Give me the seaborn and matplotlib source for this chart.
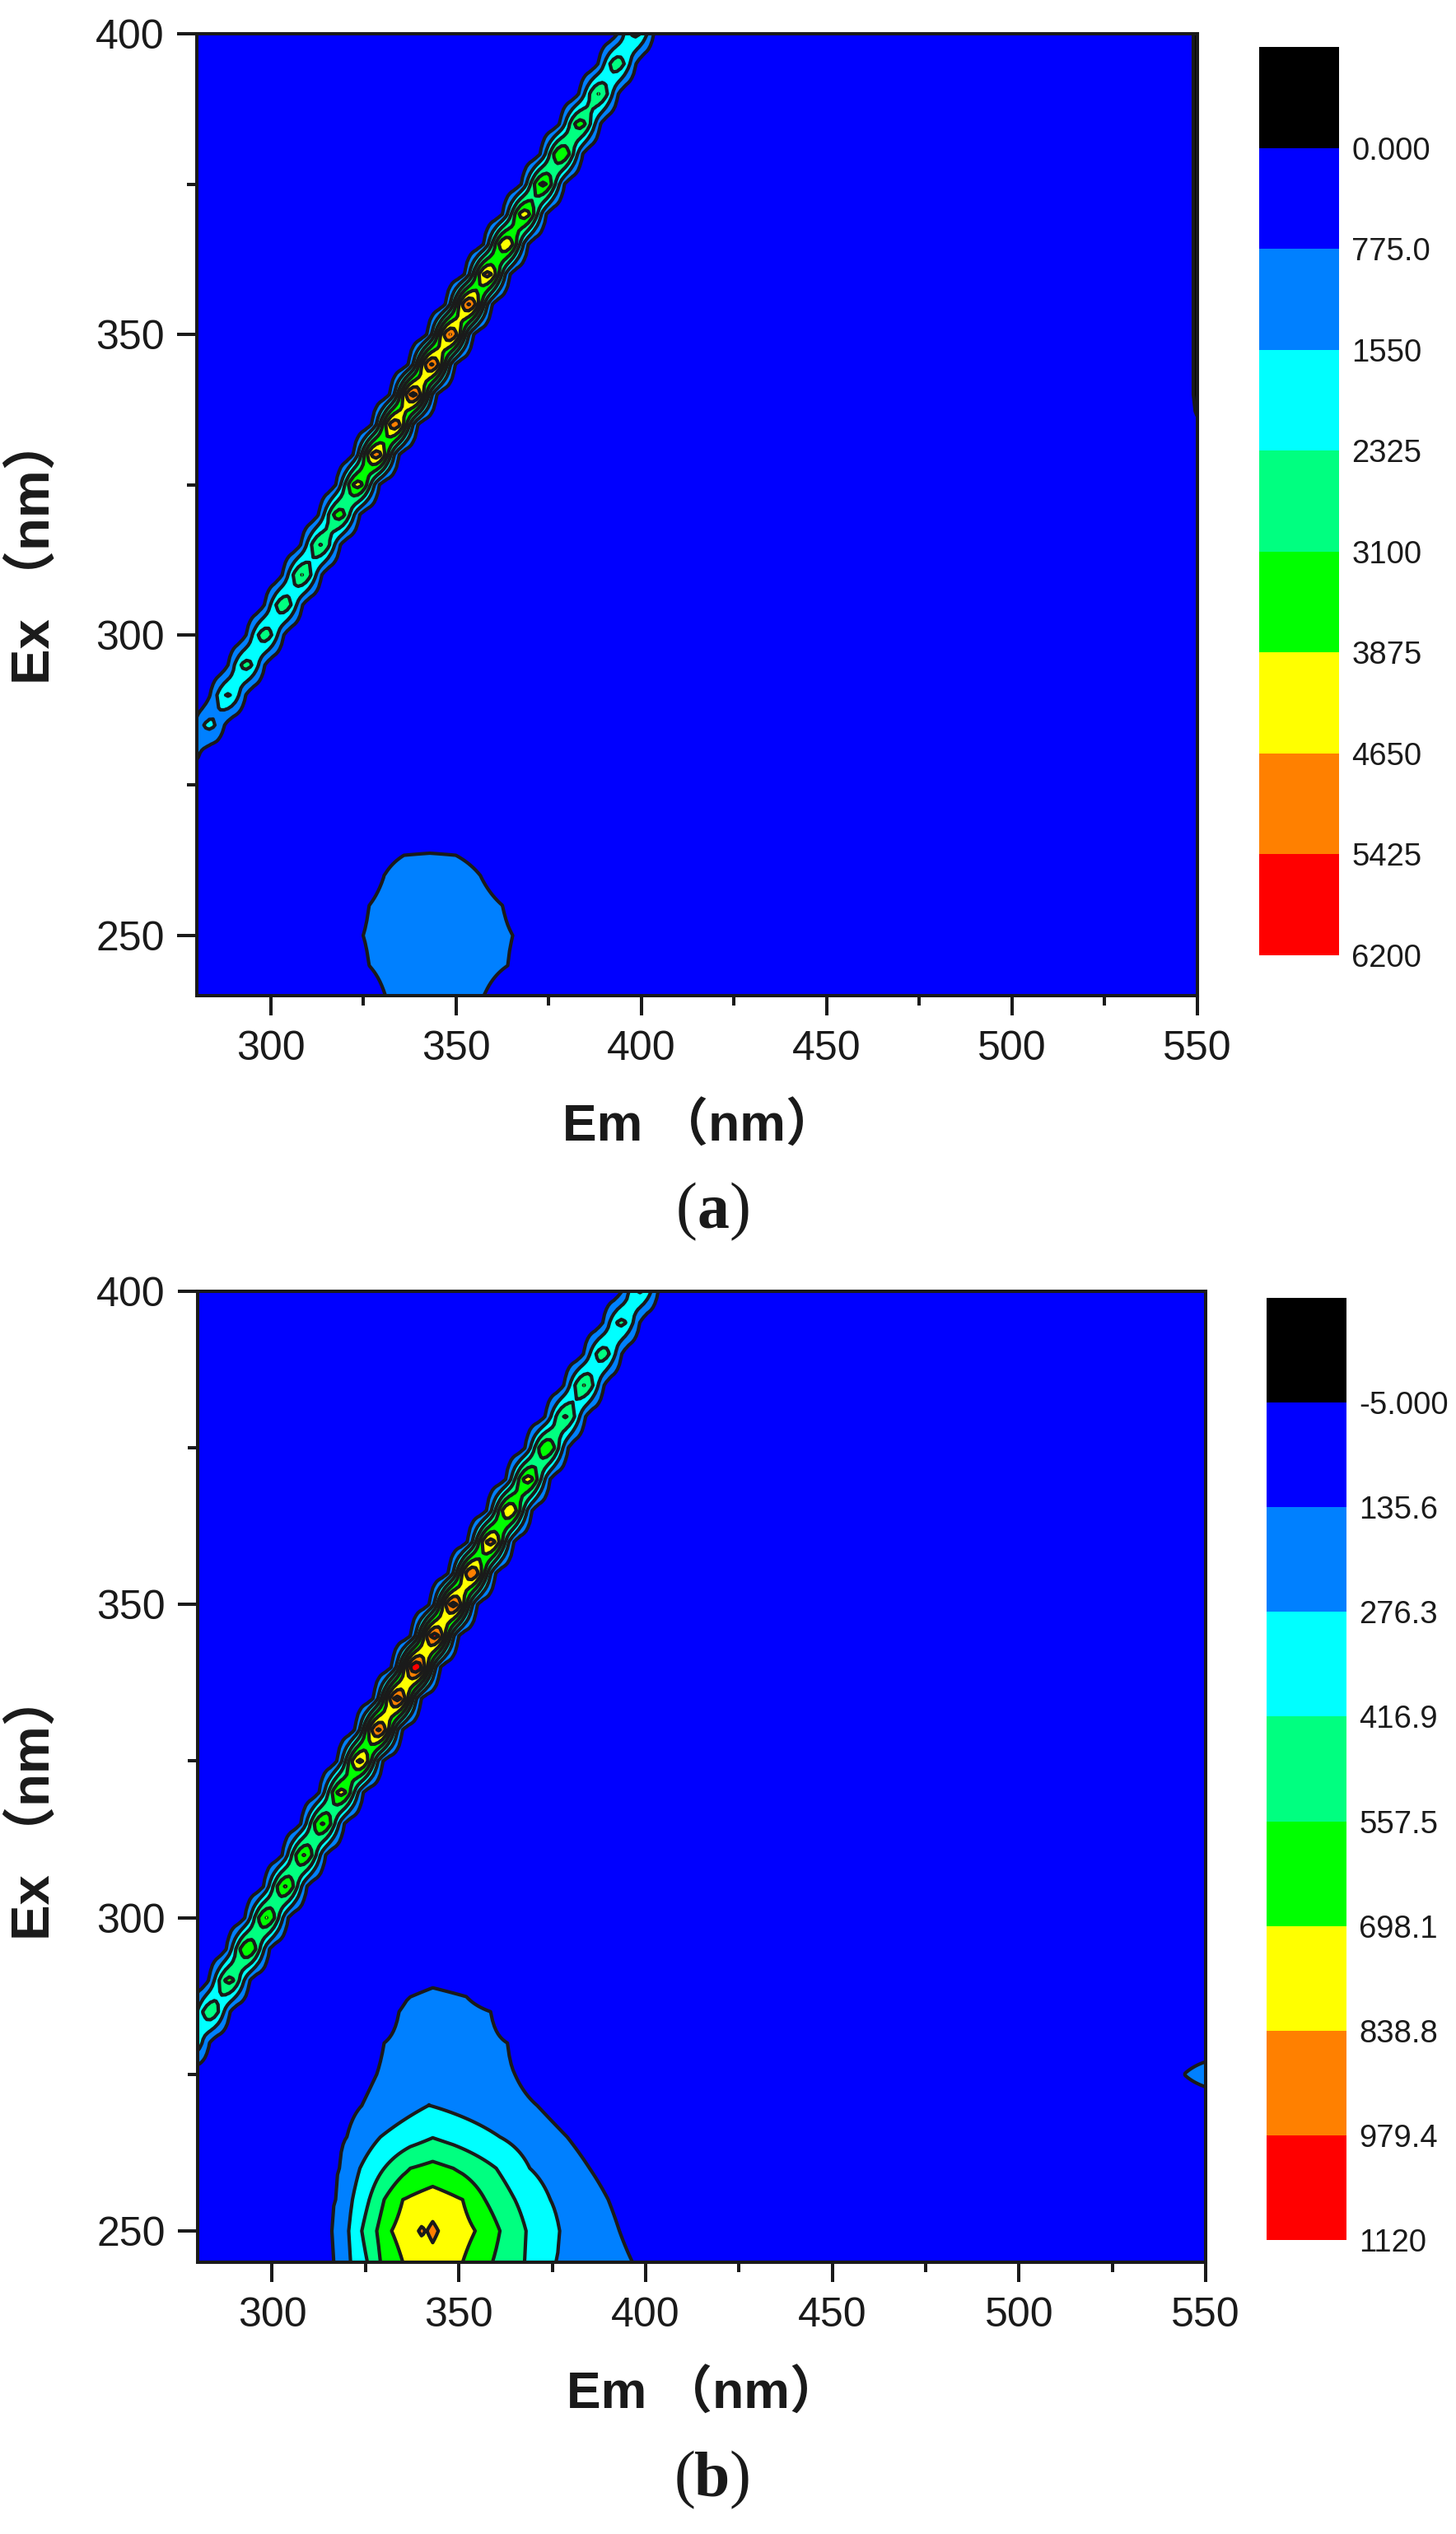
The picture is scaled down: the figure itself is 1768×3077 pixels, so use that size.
import numpy as np
import seaborn as sns
import matplotlib
matplotlib.use('Agg')
import matplotlib.pyplot as plt
from matplotlib.colors import ListedColormap

#----------------------------------------------------
# data

band_colors = ['#000000', '#0000FF', '#0080FF', '#00FFFF', '#00FF80',
               '#00FF00', '#FFFF00', '#FF8000', '#FF0000']

levels_a = [-600, 0, 775, 1550, 2325, 3100, 3875, 4650, 5425, 6200]
levels_b = [-100, -5, 135.6, 276.3, 416.9, 557.5, 698.1, 838.8, 979.4, 1120]
labels_a = ['0.000', '775.0', '1550', '2325', '3100', '3875', '4650', '5425', '6200']
labels_b = ['-5.000', '135.6', '276.3', '416.9', '557.5', '698.1', '838.8', '979.4', '1120']

base_a = 200
base_b = 40

# scatter ridge, peak height on each excitation row
ridge_ex = [280, 285, 290, 295, 300, 305, 310, 315, 320, 325, 330, 335, 340,
            345, 350, 355, 360, 365, 370, 375, 380, 385, 390, 395, 400]
ridge_a = [1000, 1750, 2400, 2600, 2750, 2850, 3110, 3130, 3500, 4200, 5100, 5200, 5650,
           5500, 5430, 5480, 4950, 4630, 4300, 4050, 3860, 3450, 3110, 2800, 2500]
ridge_b = [400, 520, 600, 695, 700, 705, 705, 710, 750, 870, 1000, 1030, 1110,
           1040, 1030, 975, 900, 835, 760, 695, 570, 560, 490, 450, 430]
# ridge line shape: distance from the ridge centre (nm), relative height
shape_off = [0, 1, 2, 3, 4, 5, 6, 7, 8, 9, 10, 11]
shape_rel = [1, .95, .82, .64, .46, .295, .172, .091, .044, .019, .008, 0]
ridge_shift = -1.5

# lower blob, panel a: one table per excitation row
blob_a_ex = [240, 245, 250, 255, 260, 265]
blob_a_em = [[318, 331, 344, 357.6, 370],
             [313, 326.6, 345, 364, 377],
             [312, 325, 345, 365.4, 378],
             [313, 326.6, 345, 362.6, 375],
             [318, 330.7, 336, 343, 350, 356.6, 369],
             [322, 336, 343, 350, 364]]
blob_a_val = [[200, 775, 1080, 775, 200],
              [200, 775, 1240, 775, 200],
              [200, 775, 1300, 775, 200],
              [200, 775, 1300, 775, 200],
              [200, 775, 1150, 1270, 1150, 775, 200],
              [200, 590, 600, 590, 200]]

# lower blob, panel b
blob_b_ex = [245, 250, 255, 260, 265, 270, 275, 280, 285, 290]
blob_b_em = [[304, 316.5, 321, 325.5, 329, 335, 343, 351, 359, 367.6, 376, 396.5, 408],
             [304, 316, 320.5, 324, 328, 332, 339.2, 340.1, 341.2, 343, 344.5, 354.4, 361, 368, 377, 393, 405],
             [305, 317, 321.5, 326, 330, 335, 343, 351, 357, 365, 374.5, 390, 402],
             [306, 318, 323.5, 330, 337, 343, 348.5, 360, 369, 385, 397],
             [308, 320, 329, 343, 361, 379, 391],
             [312, 324, 342, 371, 383],
             [316, 328, 343, 365, 377],
             [318, 330, 345, 363, 375],
             [322, 334, 337, 343, 352, 358.5, 371],
             [322, 336, 343, 352, 366]]
blob_b_val = [[40, 135.6, 276.3, 416.9, 557.5, 698.1, 790, 698.1, 557.5, 416.9, 276.3, 135.6, 40],
              [40, 135.6, 276.3, 416.9, 557.5, 698.1, 838.8, 856, 834, 868, 838.8, 698.1, 557.5, 416.9, 276.3, 135.6, 40],
              [40, 135.6, 276.3, 416.9, 557.5, 698.1, 770, 698.1, 557.5, 416.9, 276.3, 135.6, 40],
              [40, 135.6, 276.3, 416.9, 557.5, 598, 557.5, 416.9, 276.3, 135.6, 40],
              [40, 135.6, 276.3, 412, 276.3, 135.6, 40],
              [40, 135.6, 278, 135.6, 40],
              [40, 135.6, 220, 135.6, 40],
              [40, 135.6, 180, 135.6, 40],
              [40, 135.6, 150, 160, 150, 135.6, 40],
              [40, 118, 128, 120, 40]]

# right edge of the map
edge_a_ex = [340, 345, 350, 355, 360, 365, 370, 375, 380, 385, 390, 395, 400]
edge_a_em = [548.5, 549, 550]
edge_a_val = [200, 0, -500]
edge_b_ex = [275]
edge_b_em = [543, 544.2, 550]
edge_b_val = [40, 135.6, 200]

#----------------------------------------------------
# layout in pixels of the 1768x3077 picture

W, H = 1768, 3077
box_a = (238.5, 41, 1453.5, 1209)
box_b = (239.8, 1568, 1464, 2747)
bar_a = (1529, 57, 1626, 1160)
bar_b = (1538, 1576, 1635, 2720)

sns.set_theme(style='ticks')
plt.rcParams['font.family'] = ['Liberation Sans', 'DejaVu Sans']
plt.rcParams['axes.linewidth'] = 2.9

fig = plt.figure(figsize=(W / 100, H / 100), dpi=100, facecolor='white')


def px_axes(box):
    left, top, right, bottom = box
    return fig.add_axes([left / W, 1 - bottom / H, (right - left) / W, (bottom - top) / H])


def make_field(ex_axis, em_axis, base, ridge, blob_ex, blob_em, blob_val, edge_ex, edge_em, edge_val):
    Z = np.full((len(ex_axis), len(em_axis)), float(base))
    for i, ex in enumerate(ex_axis):
        if ex in ridge_ex:
            height = ridge[ridge_ex.index(ex)]
            dist = np.abs(em_axis - (ex + ridge_shift))
            Z[i] = np.maximum(Z[i], height * np.interp(dist, shape_off, shape_rel))
        if ex in blob_ex:
            k = blob_ex.index(ex)
            Z[i] = np.maximum(Z[i], np.interp(em_axis, blob_em[k], blob_val[k]))
        if ex in edge_ex:
            use = em_axis >= edge_em[0]
            Z[i, use] = np.interp(em_axis[use], edge_em, edge_val)
    return Z


def draw_panel(box, bar, ymin, levels, labels, Z, ex_axis, em_axis):
    ax = px_axes(box)
    ax.contourf(em_axis, ex_axis, Z, levels=levels, colors=band_colors, antialiased=False)
    ax.contour(em_axis, ex_axis, Z, levels=levels[1:-1], colors='k', linewidths=3.0,
               linestyles='solid')
    ax.set_xlim(280, 550)
    ax.set_ylim(ymin, 400)
    ax.set_xticks([300, 350, 400, 450, 500, 550])
    ax.set_xticks([325, 375, 425, 475, 525], minor=True)
    ax.set_yticks([250, 300, 350, 400])
    ax.set_yticks([275, 325, 375], minor=True)
    ax.tick_params(axis='both', which='major', length=17, width=2.9, labelsize=36, color='k', labelcolor='k')
    ax.tick_params(axis='both', which='minor', length=8.6, width=2.9, color='k')
    ax.tick_params(axis='x', which='major', pad=13)
    ax.tick_params(axis='y', which='major', pad=11)
    for s in ax.spines.values():
        s.set_color('k')
        s.set_linewidth(2.9)

    # legend bar
    cax = px_axes(bar)
    sns.heatmap(np.arange(9).reshape(-1, 1), cmap=ListedColormap(band_colors), cbar=False,
                ax=cax, xticklabels=False, yticklabels=False, vmin=0, vmax=8)
    cax.yaxis.tick_right()
    cax.set_yticks(np.arange(1, 10))
    cax.set_yticklabels(labels, rotation=0, fontsize=27.5, color='k')
    cax.tick_params(axis='y', length=0, pad=11)
    return ax


def px_text(x, y, s, **kw):
    fig.text(x / W, 1 - y / H, s, ha=kw.pop('ha', 'center'), va=kw.pop('va', 'center'), color='k', **kw)


em_axis = np.arange(280, 550.5, 0.5)
ex_a = np.arange(240, 405, 5)
ex_b = np.arange(245, 405, 5)

Z_a = make_field(ex_a, em_axis, base_a, ridge_a, blob_a_ex, blob_a_em, blob_a_val, edge_a_ex, edge_a_em, edge_a_val)
Z_b = make_field(ex_b, em_axis, base_b, ridge_b, blob_b_ex, blob_b_em, blob_b_val, edge_b_ex, edge_b_em, edge_b_val)

draw_panel(box_a, bar_a, 240, levels_a, labels_a, Z_a, ex_a, em_axis)
draw_panel(box_b, bar_b, 245, levels_b, labels_b, Z_b, ex_b, em_axis)

#----------------------------------------------------
# axis titles and panel letters

title_font = ['Liberation Sans', 'Noto Sans CJK SC']
px_text(850, 1369, 'Em （nm）', family=title_font, fontweight='bold', fontsize=45)
px_text(855, 2908, 'Em （nm）', family=title_font, fontweight='bold', fontsize=45)
px_text(41, 668, 'Ex （nm）', family=title_font, fontweight='bold', fontsize=47, rotation=90)
px_text(41, 2193, 'Ex （nm）', family=title_font, fontweight='bold', fontsize=47, rotation=90)

for cx, cy, letter in [(866, 1472, 'a'), (865, 3012, 'b')]:
    px_text(cx, cy, letter, family='Liberation Serif', fontweight='bold', fontsize=56)
    px_text(cx - 20, cy, '(', family='Liberation Serif', fontsize=56, ha='right')
    px_text(cx + 20, cy, ')', family='Liberation Serif', fontsize=56, ha='left')

fig.savefig('out.png', dpi=100)
